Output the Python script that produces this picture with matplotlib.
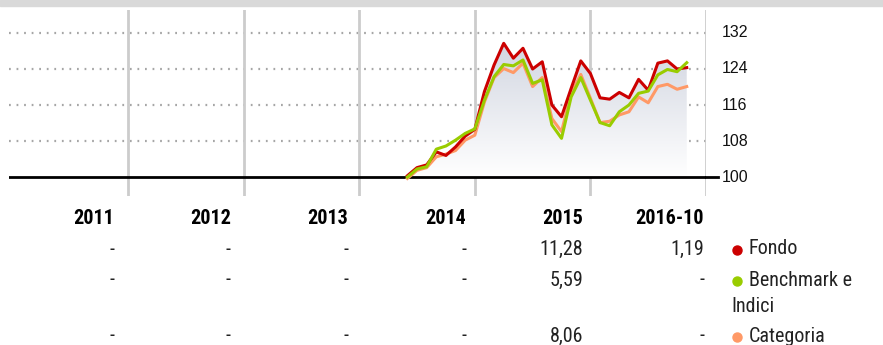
import numpy as np
import matplotlib.pyplot as plt
from matplotlib.lines import Line2D
from matplotlib.colors import LinearSegmentedColormap

plt.rcParams['font.family'] = ['Roboto Condensed', 'Liberation Sans Narrow',
                               'DejaVu Sans Condensed', 'Roboto', 'DejaVu Sans']

# monthly index values, base 100, from May 2014 to Oct 2016
start_year, start_month = 2014, 5
fondo = [100.3, 102.1, 102.7, 105.6, 104.8, 106.7, 109.1, 110.6,
         119.0, 124.9, 129.7, 126.4, 128.6, 124.0, 125.6, 116.0,
         113.4, 119.7, 125.8, 123.0, 117.6, 117.3, 118.8, 117.6,
         121.7, 119.3, 125.3, 125.8, 124.0, 124.3]
benchmark = [100.0, 101.8, 102.3, 106.2, 106.9, 108.2, 109.7, 110.7,
             117.1, 122.3, 125.0, 124.7, 126.0, 120.8, 121.6, 111.6,
             108.6, 117.8, 122.1, 117.1, 112.1, 111.4, 114.5, 116.0,
             118.6, 119.1, 122.7, 123.9, 123.4, 125.4]
categoria = [99.7, 101.5, 102.1, 104.5, 105.1, 105.9, 108.2, 109.3,
             116.7, 122.1, 124.1, 123.2, 125.3, 120.1, 122.1, 113.0,
             110.1, 118.6, 122.8, 117.5, 112.1, 112.4, 113.8, 114.5,
             117.8, 116.5, 120.1, 120.6, 119.5, 120.1]

# annual returns table
years = ['2011', '2012', '2013', '2014', '2015', '2016-10']
ret_fondo = ['-', '-', '-', '-', '11,28', '1,19']
ret_bench = ['-', '-', '-', '-', '5,59', '-']
ret_cat = ['-', '-', '-', '-', '8,06', '-']
y_ticks = [100, 108, 116, 124, 132]

RED = '#cc0000'
GREEN = '#99cc00'
ORANGE = '#ff9966'

W, H = 883, 345
fig = plt.figure(figsize=(W / 100, H / 100), dpi=100)

def fx(px):
    return px / W

def fy(py):
    return 1 - py / H

# thin grey band along the top edge
fig.patches.append(plt.Rectangle((0, fy(6)), 1, 6 / H, transform=fig.transFigure,
                                 color='#d9d9d9', zorder=0))

ax = fig.add_axes([fx(9), fy(196), fx(706) - fx(9), fy(10) - fy(196)])
for s in ax.spines.values():
    s.set_visible(False)
ax.set_xticks([])
ax.set_yticks([])

n = len(fondo)
x = np.array([start_year + (start_month + i) / 12 for i in range(n)])

# dotted horizontal grid and year separators
for v in y_ticks[1:]:
    ax.axhline(v, color='#a6a6a6', lw=1.6, ls=(0, (0.8, 2.6)), zorder=1)
for yr in range(2012, 2018):
    ax.axvline(yr, color='#cccccc', lw=2, zorder=1)
ax.axhline(100, color='black', lw=2, zorder=2)

# gradient fill under the fund line
poly = ax.fill_between(x, 100, fondo, color='none', lw=0)
cmap = LinearSegmentedColormap.from_list('fade', ['#ffffff', '#d2d6e1'])
grad = np.linspace(0, 1, 256).reshape(-1, 1)
img = ax.imshow(grad, cmap=cmap, aspect='auto', origin='lower',
                extent=[x[0], x[-1], 100, max(fondo)], zorder=1.5)
img.set_clip_path(poly.get_paths()[0], transform=ax.transData)
ax.set_xlim(2010.97, 2017.0)
ax.set_ylim(95.8, 137.1)

ax.plot(x, categoria, color=ORANGE, lw=2.2, zorder=3)
ax.plot(x, fondo, color=RED, lw=2.2, zorder=4)
ax.plot(x, benchmark, color=GREEN, lw=2.2, zorder=5)

# y labels on the right with a short tick at 100
ylab_tr = ax.get_yaxis_transform()
for v in y_ticks:
    t = ax.text(1.0, v, str(v), transform=ylab_tr, ha='left', va='center',
                fontsize=11.5, family=['Liberation Sans', 'DejaVu Sans'], color='#111111')
    t.set_x(1.0 + 16 / (fx(706) - fx(9)) / W)
fig.add_artist(Line2D([fx(706), fx(718)], [fy(177), fy(177)], color='black', lw=2,
                      transform=fig.transFigure))

# annual returns table
col_right = [114, 231, 348, 466, 583, 704]
for cx, lab in zip(col_right, years):
    fig.text(fx(cx), fy(219), lab, ha='right', va='center', fontsize=14.5, fontweight='bold')
for row_y, vals in [(249, ret_fondo), (280, ret_bench), (336, ret_cat)]:
    for cx, val in zip(col_right, vals):
        fig.text(fx(cx), fy(row_y), val, ha='right', va='center', fontsize=14.5, color='#222222')

# legend next to the table
legend_rows = [(249, RED, 'Fondo'), (280, GREEN, 'Benchmark e'), (336, ORANGE, 'Categoria')]
for row_y, col, lab in legend_rows:
    fig.add_artist(Line2D([fx(737)], [fy(row_y + 1)], marker='o', ms=6.5, color=col,
                          lw=0, transform=fig.transFigure))
    fig.text(fx(749), fy(row_y), lab, ha='left', va='center', fontsize=14.5, color='#222222')
fig.text(fx(731), fy(306), 'Indici', ha='left', va='center', fontsize=14.5, color='#222222')

fig.savefig('out.png', dpi=100)
